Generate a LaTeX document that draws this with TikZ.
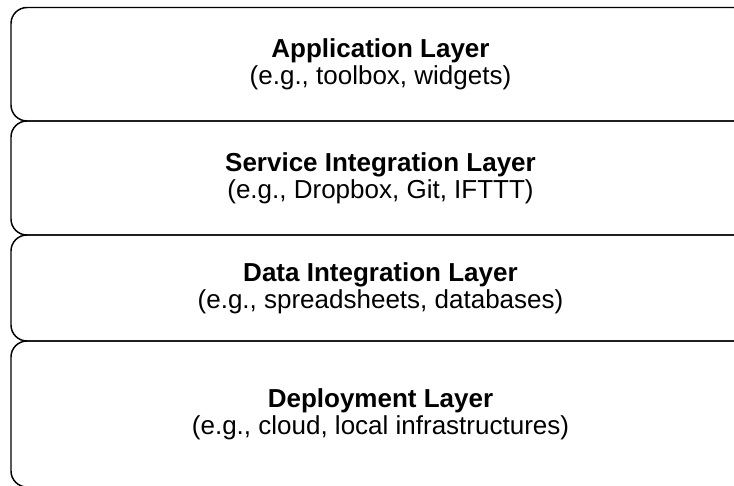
\documentclass[tikz,border=0pt]{standalone}
\usepackage{fontspec}
\setmainfont{Liberation Sans}

\begin{document}
\begin{tikzpicture}[x=0.75pt, y=-0.75pt, every node/.style={font=\fontsize{19.5pt}{20pt}\selectfont}]
        \tikzset{layer/.style={draw, line width=1.1pt, rounded corners=12pt, align=center, minimum width=554.25pt, inner sep=0pt, execute at begin node={\rule{0pt}{17.2pt}}}}
        \useasboundingbox (0,0) rectangle (734,485);
        \clip (0,0) rectangle (734,485);

		\node[layer, minimum height=85.1pt] (app)at(380.5,64.25) {\textbf{Application Layer}\\(e.g., toolbox, widgets)};
		\node[layer, minimum height=85.5pt] (service)at(380.5,178) {\textbf{Service Integration Layer}\\(e.g., Dropbox, Git, IFTTT)};
		\node[layer, minimum height=79.5pt] (data)at(380.5,288) {\textbf{Data Integration Layer}\\(e.g., spreadsheets, databases)};
		\node[layer, minimum height=109.5pt] (deploy)at(380.5,414) {\textbf{Deployment Layer}\\(e.g., cloud, local infrastructures)};

\end{tikzpicture}
\end{document}
